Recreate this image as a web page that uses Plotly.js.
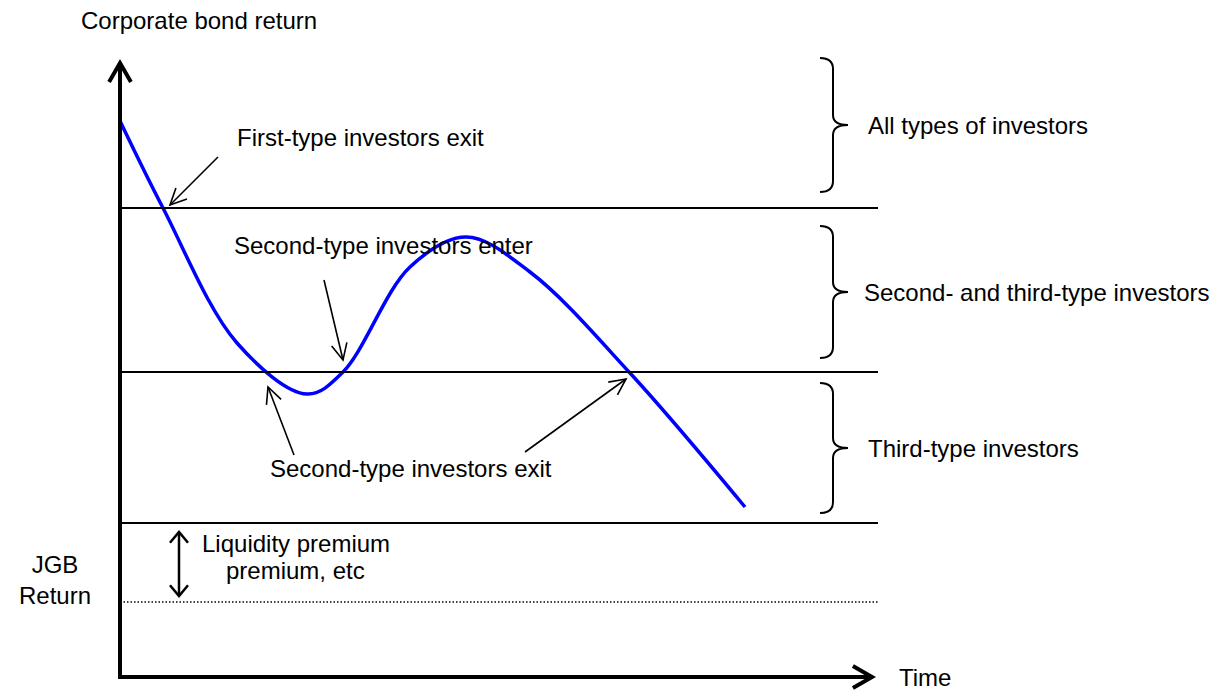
<!DOCTYPE html>
<html>
<head>
<meta charset="utf-8">
<script src="https://cdn.plot.ly/plotly-3.0.1.min.js"></script>
<style>
html, body { margin: 0; padding: 0; background: #fff; }
#chart { width: 1231px; height: 691px; }
</style>
</head>
<body>
<div id="chart"></div>
<script>
// diagram units: origin at the axes corner, 1 unit = 1 px
const timeX = [0, 43, 117, 187, 223, 290, 346, 410, 510, 625];
const bondReturn = [556, 469, 334, 283, 305, 410, 440, 405, 304, 170];

// thresholds between investor groups, and the JGB return level
const levelY = [469, 305, 154];
const jgbLevel = 75;
const lineEnd = 758;
const axisTop = 614;
const axisRight = 752;

// braces on the right [top, bottom] and their labels
const braceSpans = [[619, 485], [451, 319], [294, 164]];
const braceLabels = ['All types of investors', 'Second- and third-type investors', 'Third-type investors'];
const braceLabelX = [746, 742, 746];

// callouts: label, label position, arrows [tailX, tailY, tipX, tipY]
const callouts = [
    { text: 'First-type investors exit', x: 115, y: 540, arrows: [[98, 520, 50, 472]] },
    { text: 'Second-type investors enter', x: 112, y: 432, arrows: [[204, 397, 223, 317]] },
    { text: 'Second-type investors exit', x: 148, y: 209, arrows: [[174, 222, 148, 290], [405, 225, 506, 298]] }
];

const liquidityX = 59;
const liquidityRange = [145, 81];

const font = { family: 'Liberation Sans, Arial, sans-serif', size: 24, color: '#000' };

function headPath(x0, y0, x1, y1, len, ang) {
    const a = Math.atan2(y0 - y1, x0 - x1);
    const w1 = [x1 + len * Math.cos(a + ang), y1 + len * Math.sin(a + ang)];
    const w2 = [x1 + len * Math.cos(a - ang), y1 + len * Math.sin(a - ang)];
    return `M${w1[0]},${w1[1]} L${x1},${y1} L${w2[0]},${w2[1]}`;
}

function bracePath(top, bottom) {
    const xh = 700, xv = 713, xt = 728, mid = (top + bottom) / 2, r = 11, rt = 10;
    return `M${xh},${top} Q${xv},${top} ${xv},${top - r} L${xv},${mid + rt} ` +
        `Q${xv},${mid} ${xt},${mid} Q${xv},${mid} ${xv},${mid - rt} ` +
        `L${xv},${bottom + r} Q${xv},${bottom} ${xh},${bottom}`;
}

const shapes = [];
const black = '#000';

// level lines
levelY.forEach(y => {
    shapes.push({ type: 'line', x0: 0, x1: lineEnd, y0: y, y1: y, line: { color: black, width: 2 } });
});
shapes.push({ type: 'line', x0: 0, x1: lineEnd, y0: jgbLevel, y1: jgbLevel, line: { color: black, width: 1.5, dash: '1.5px,2px' } });

// axes with open arrow heads
shapes.push({ type: 'line', x0: 0, x1: 0, y0: -2, y1: axisTop, line: { color: black, width: 4 } });
shapes.push({ type: 'path', path: headPath(0, 0, 0, axisTop, 22, 0.52), line: { color: black, width: 4 } });
shapes.push({ type: 'line', x0: -2, x1: axisRight, y0: 0, y1: 0, line: { color: black, width: 4 } });
shapes.push({ type: 'path', path: headPath(0, 0, axisRight, 0, 22, 0.52), line: { color: black, width: 4 } });

// braces
braceSpans.forEach(s => {
    shapes.push({ type: 'path', path: bracePath(s[0], s[1]), line: { color: black, width: 2 } });
});

// callout arrows
callouts.forEach(c => {
    c.arrows.forEach(a => {
        shapes.push({ type: 'line', x0: a[0], y0: a[1], x1: a[2], y1: a[3], line: { color: black, width: 1.6 } });
        shapes.push({ type: 'path', path: headPath(a[0], a[1], a[2], a[3], 18, 0.45), line: { color: black, width: 1.6 } });
    });
});

// liquidity premium double arrow
shapes.push({ type: 'line', x0: liquidityX, x1: liquidityX, y0: liquidityRange[0], y1: liquidityRange[1], line: { color: black, width: 2.5 } });
shapes.push({ type: 'path', path: headPath(liquidityX, liquidityRange[1], liquidityX, liquidityRange[0], 14, 0.7), line: { color: black, width: 2.5 } });
shapes.push({ type: 'path', path: headPath(liquidityX, liquidityRange[0], liquidityX, liquidityRange[1], 14, 0.7), line: { color: black, width: 2.5 } });

const annotations = [];
function label(text, x, y, anchor) {
    annotations.push({ text: text, x: x, y: y, xref: 'x', yref: 'y', showarrow: false,
        xanchor: anchor || 'left', yanchor: 'middle', font: font });
}

label('Corporate bond return', -41, 657);
braceLabels.forEach((t, i) => {
    const s = braceSpans[i];
    label(t, braceLabelX[i], (s[0] + s[1]) / 2);
});
callouts.forEach(c => label(c.text, c.x, c.y));
label('Liquidity premium', 80, 134);
label('premium, etc', 104, 107);
label('JGB<br>Return', -65, 97, 'center');
label('Time', 777, 0);

const trace = {
    x: timeX,
    y: bondReturn,
    type: 'scatter',
    mode: 'lines',
    line: { color: '#0000ff', width: 3.5, shape: 'spline', smoothing: 1 },
    hoverinfo: 'skip'
};

const layout = {
    width: 1231,
    height: 691,
    margin: { l: 0, r: 0, t: 0, b: 0 },
    paper_bgcolor: '#fff',
    plot_bgcolor: '#fff',
    showlegend: false,
    xaxis: { range: [-120, 1111], visible: false, fixedrange: true },
    yaxis: { range: [-14, 677], visible: false, fixedrange: true },
    shapes: shapes,
    annotations: annotations
};

Plotly.newPlot('chart', [trace], layout, { displayModeBar: false, staticPlot: true });
</script>
</body>
</html>
